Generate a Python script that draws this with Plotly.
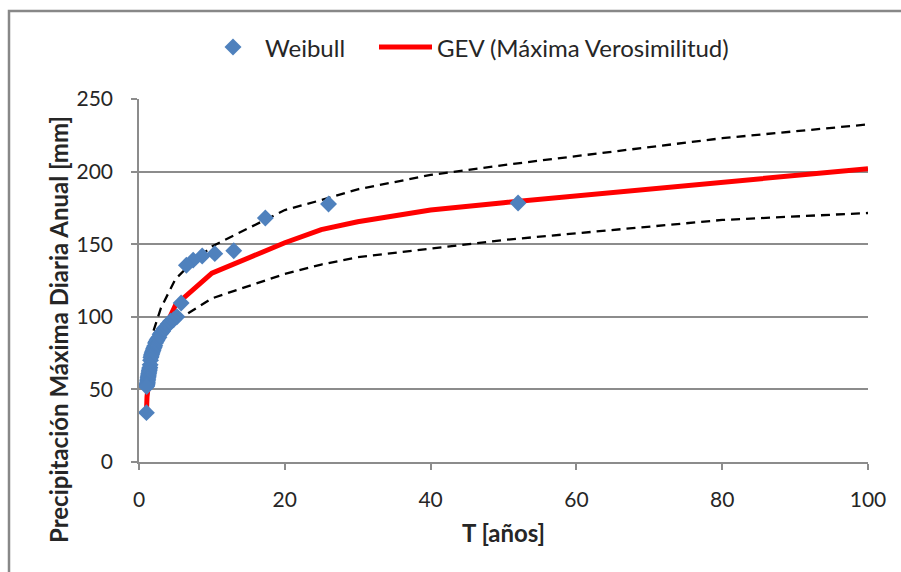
import plotly.graph_objects as go

# Empirical return periods (Weibull plotting position) and observed annual maxima
weibull_T = [52.0, 26.0, 17.33, 13.0, 10.4, 8.67, 7.43, 6.5, 5.78, 5.2,
             4.73, 4.33, 4.0, 3.71, 3.47, 3.25, 3.06, 2.89, 2.74, 2.6,
             2.48, 2.36, 2.26, 2.17, 2.08, 2.0, 1.93, 1.86, 1.79, 1.73,
             1.68, 1.63, 1.58, 1.53, 1.49, 1.44, 1.41, 1.37, 1.33, 1.3,
             1.27, 1.24, 1.21, 1.18, 1.16, 1.13, 1.11, 1.08, 1.06, 1.04, 1.02]
weibull_P = [178.4, 177.7, 168.0, 145.5, 143.5, 141.9, 139.0, 135.5, 109.5, 100.0,
             98.0, 97.0, 95.0, 93.0, 92.0, 90.0, 89.0, 88.0, 86.0, 85.0,
             84.0, 83.0, 82.0, 80.0, 79.0, 78.0, 77.0, 76.0, 75.0, 74.0,
             73.0, 72.0, 70.0, 67.0, 65.0, 64.0, 63.0, 62.0, 61.0, 60.0,
             59.0, 58.0, 57.0, 56.0, 55.0, 54.0, 53.5, 53.0, 52.5, 52.0, 34.0]

# GEV fit (maximum likelihood) at selected return periods
gev_T = [1.01, 1.1, 1.5, 2, 5, 10, 20, 25, 30, 40, 50, 100]
gev_P = [33.0, 45.0, 62.0, 76.0, 108.0, 130.0, 151.0, 160.0, 165.5, 173.5, 178.6, 202.0]

# Confidence bands
upper_T = [2, 3, 5, 7, 10, 20, 25, 30, 40, 50, 80, 100]
upper_P = [90.5, 106.0, 126.0, 136.0, 148.5, 173.5, 180.4, 187.8, 197.7, 204.5, 223.0, 232.5]
lower_T = [5, 10, 20, 25, 30, 40, 50, 80, 100]
lower_P = [97.0, 112.7, 129.5, 136.0, 141.0, 147.2, 152.9, 166.7, 171.5]

FONT = "Lato"
GRID = "#8c8c8c"
TEXT = "#262626"
BLUE = "#4F81BD"
RED = "#FF0000"
DASH = dict(color="black", width=2.3, dash="9px,6px")

# Plot-area geometry in pixels, used to place the legend and titles
W, H = 901, 572
L, R, T, B = 139, 33, 99, 110
PW, PH = W - L - R, H - T - B


def px(x):
    return (x - L) / PW


def py(y):
    return (H - B - y) / PH


fig = go.Figure()

fig.add_trace(go.Scatter(x=upper_T, y=upper_P, mode="lines", showlegend=False, line=DASH))
fig.add_trace(go.Scatter(x=lower_T, y=lower_P, mode="lines", showlegend=False, line=DASH))
fig.add_trace(go.Scatter(x=gev_T, y=gev_P, mode="lines", showlegend=False,
                         name="GEV (Máxima Verosimilitud)",
                         line=dict(color=RED, width=5)))
fig.add_trace(go.Scatter(x=weibull_T, y=weibull_P, mode="markers", name="Weibull",
                         showlegend=False,
                         marker=dict(symbol="diamond", size=13, color=BLUE,
                                     line=dict(width=0))))

# Legend row above the plot
leg_y = 47
shapes = [
    dict(type="path", xref="paper", yref="paper", fillcolor=BLUE, line=dict(width=0),
         path=(f"M {px(233)},{py(leg_y - 8.5)} L {px(241.5)},{py(leg_y)} "
               f"L {px(233)},{py(leg_y + 8.5)} L {px(224.5)},{py(leg_y)} Z")),
    dict(type="line", xref="paper", yref="paper",
         x0=px(379), x1=px(432), y0=py(leg_y), y1=py(leg_y),
         line=dict(color=RED, width=5)),
    # chart frame
    dict(type="path", xref="paper", yref="paper",
         path=f"M {px(9)},{py(590)} L {px(9)},{py(11)} L {px(910)},{py(11)}",
         line=dict(color="#888888", width=2.5)),
]
annotations = [
    dict(text="Weibull", xref="paper", yref="paper", x=px(263), y=py(leg_y),
         xanchor="left", yanchor="middle", showarrow=False,
         font=dict(size=24, color=TEXT)),
    dict(text="GEV (Máxima Verosimilitud)", xref="paper", yref="paper",
         x=px(435), y=py(leg_y), xanchor="left", yanchor="middle", showarrow=False,
         font=dict(size=24, color=TEXT)),
    dict(text="<b>Precipitación Máxima Diaria Anual [mm]</b>", xref="paper", yref="paper",
         x=px(58), y=py(330), xanchor="center", yanchor="middle", textangle=-90,
         showarrow=False, font=dict(size=24, color=TEXT)),
]

fig.update_layout(
    width=W, height=H,
    margin=dict(l=L, r=R, t=T, b=B),
    paper_bgcolor="white", plot_bgcolor="white",
    font=dict(family=FONT, size=21, color=TEXT),
    showlegend=False,
    xaxis=dict(range=[0, 100], dtick=20, tick0=0, showgrid=False, zeroline=False,
               showline=True, linecolor=GRID, linewidth=1.5,
               ticks="outside", ticklen=6, tickcolor=GRID, tickwidth=1.5,
               tickfont=dict(size=21), ticklabelstandoff=12,
               title=dict(text="<b>T [años]</b>", font=dict(size=24), standoff=15)),
    yaxis=dict(range=[0, 250], dtick=50, tick0=0, showgrid=True, gridcolor=GRID,
               gridwidth=1.5, zeroline=False,
               showline=True, linecolor=GRID, linewidth=1.5,
               ticks="outside", ticklen=6, tickcolor=GRID, tickwidth=1.5,
               tickfont=dict(size=21), ticklabelstandoff=14),
    shapes=shapes,
    annotations=annotations,
)

fig.write_html("out.html")
